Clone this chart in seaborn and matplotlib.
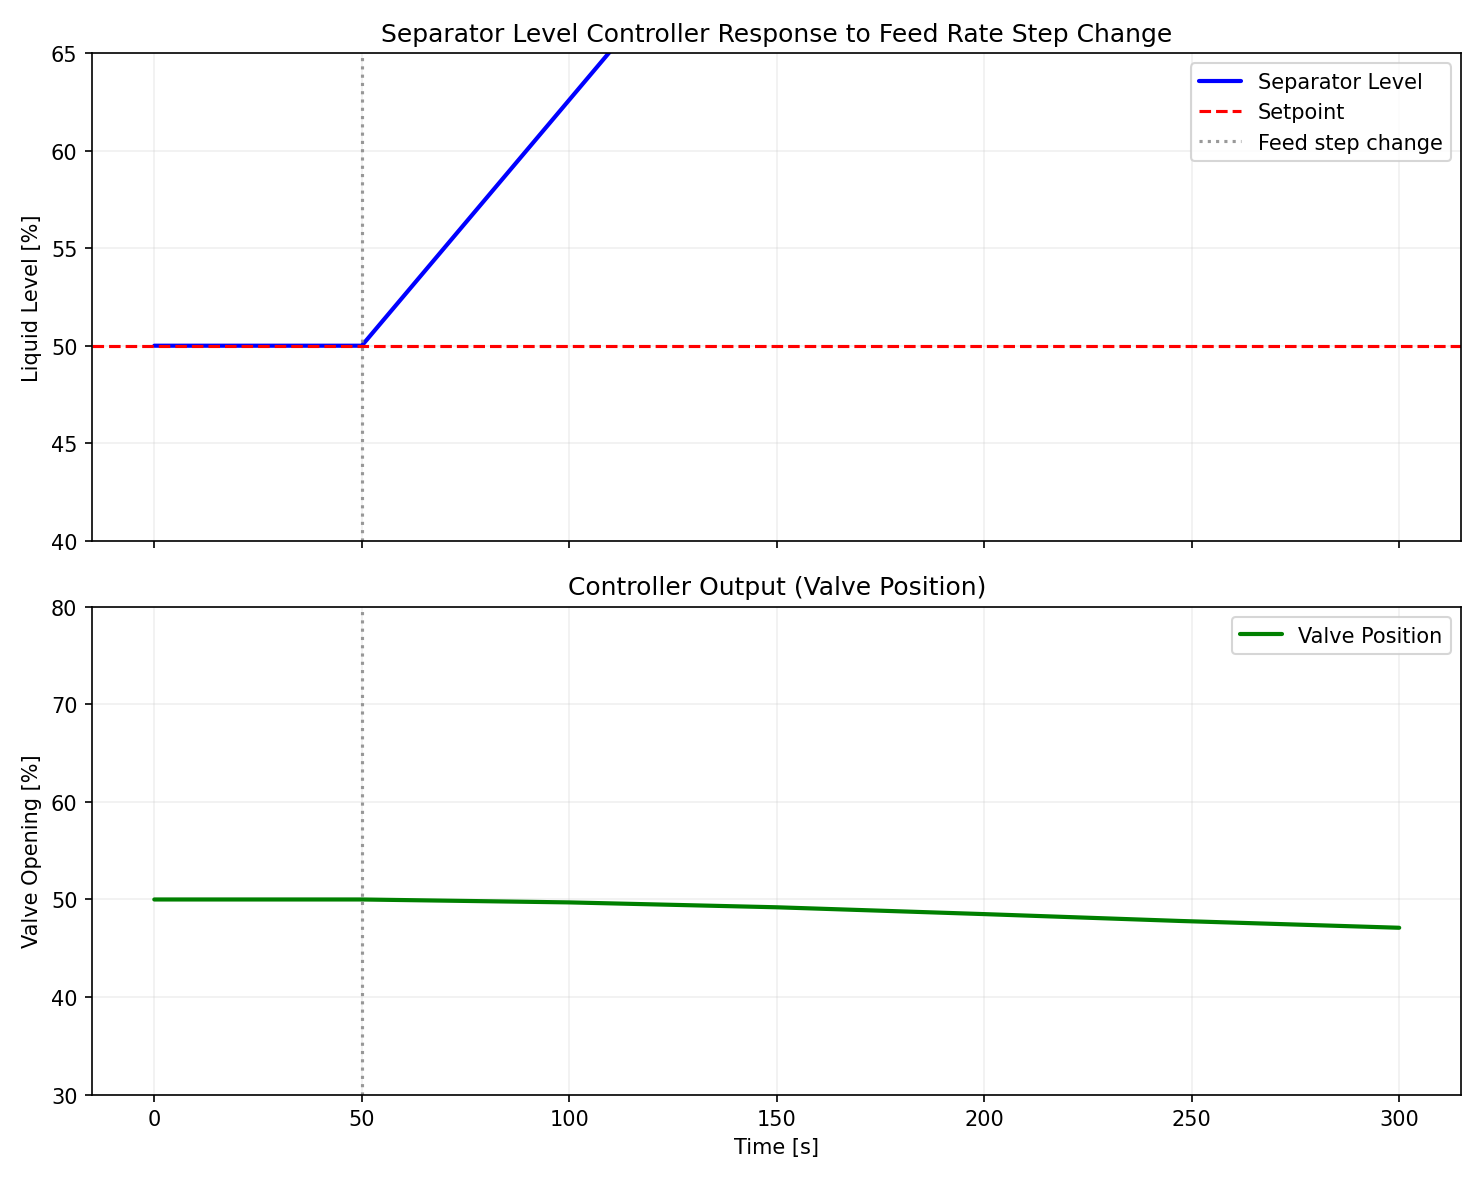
import numpy as np
import pandas as pd
import matplotlib
matplotlib.use("Agg")
import matplotlib.pyplot as plt
import seaborn as sns

# data
level_time = [0, 50, 75, 100, 125, 150, 200, 250, 300]
level_vals = [50.0, 50.0, 56.3, 62.6, 68.9, 75.2, 87.8, 100.0, 100.0]
setpoint = 50.0
step_time = 50

valve_time = [0, 50, 100, 150, 200, 247, 300]
valve_vals = [50.0, 50.0, 49.7, 49.2, 48.5, 47.8, 47.1]

sns.set_style("ticks", {"axes.edgecolor": "black", "text.color": "black",
                        "xtick.color": "black", "ytick.color": "black",
                        "axes.labelcolor": "black"})
plt.rcParams['font.family'] = ['DejaVu Sans']

fig, (ax1, ax2) = plt.subplots(2, 1, figsize=(9.893, 7.873), dpi=150, sharex=True)

lvl = pd.DataFrame({"t": level_time, "v": level_vals})
sns.lineplot(data=lvl, x="t", y="v", ax=ax1, color="blue", linewidth=2, label="Separator Level")
ax1.axhline(setpoint, color="red", linestyle="--", linewidth=1.5, label="Setpoint")
ax1.axvline(step_time, color="gray", linestyle=":", alpha=0.8, linewidth=1.5, label="Feed step change")
ax1.set_ylim(40, 65)
ax1.set_ylabel("Liquid Level [%]")
ax1.set_xlabel("")
ax1.set_title("Separator Level Controller Response to Feed Rate Step Change", fontsize=12)
ax1.grid(True, alpha=0.3)
ax1.legend(loc="upper right")

vlv = pd.DataFrame({"t": valve_time, "v": valve_vals})
sns.lineplot(data=vlv, x="t", y="v", ax=ax2, color="green", linewidth=2, label="Valve Position")
ax2.axvline(step_time, color="gray", linestyle=":", alpha=0.8, linewidth=1.5)
ax2.set_ylim(30, 80)
ax2.set_ylabel("Valve Opening [%]")
ax2.set_xlabel("Time [s]")
ax2.set_title("Controller Output (Valve Position)", fontsize=12)
ax2.grid(True, alpha=0.3)
ax2.legend(loc="upper right")
ax2.set_xlim(-15, 315)

plt.tight_layout()
plt.savefig("out.png", dpi=150)
plt.close(fig)
